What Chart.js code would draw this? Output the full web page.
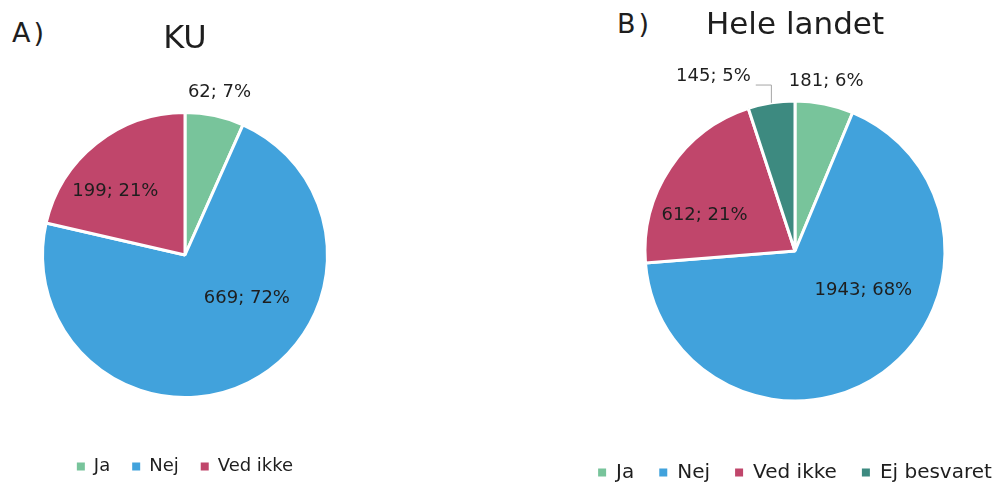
<!DOCTYPE html>
<html>
<head>
<meta charset="utf-8">
<script src="https://cdn.jsdelivr.net/npm/chart.js@4"></script>
<style>
  html, body { margin: 0; padding: 0; background: #fff; overflow: hidden; width: 1005px; height: 482px; }
  body { position: relative; font-family: "DejaVu Sans", sans-serif; color: #1e1e1e; }
  canvas { position: absolute; top: 0; }
  #chart-ku { left: 0; }
  #chart-landet { left: 560px; }
  .tag { position: absolute; font-size: 27px; line-height: 27px; letter-spacing: 3px; }
</style>
</head>
<body>
<div class="tag" style="left:12px; top:19px;">A)</div>
<div class="tag" style="left:617px; top:10px;">B)</div>
<canvas id="chart-ku" width="370" height="490"></canvas>
<canvas id="chart-landet" width="470" height="500"></canvas>
<script>
/* Survey answers */
const categoriesKU = ['Ja', 'Nej', 'Ved ikke'];
const valuesKU = [62, 669, 199];
const percentKU = [7, 72, 21];

const categoriesLandet = ['Ja', 'Nej', 'Ved ikke', 'Ej besvaret'];
const valuesLandet = [181, 1943, 612, 145];
const percentLandet = [6, 68, 21, 5];

const answerColors = ['#78c49b', '#41a2dc', '#c0466b', '#3d8a80'];

/* Label spots: [fraction along the slice, fraction of the radius] */
const labelSpotsKU = [[0.5, 1.165], [0.39, 0.53], [0.38, 0.66]];
const labelSpotsLandet = [[0.46, 1.15], [0.40, 0.525], [0.34, 0.648], [-0.38, 1.287]];
const leadersLandet = [false, false, false, true];

Chart.defaults.font.family = '"DejaVu Sans", sans-serif';
Chart.defaults.color = '#1e1e1e';

/* Writes "count; pct%" on each slice */
function makeSliceLabels(percent, spots, leaders) {
    return {
        id: 'sliceLabels',
        afterDatasetsDraw(chart) {
            const ctx = chart.ctx;
            const values = chart.data.datasets[0].data;
            ctx.save();
            ctx.font = '18px "DejaVu Sans"';
            ctx.fillStyle = '#1e1e1e';
            ctx.textAlign = 'center';
            ctx.textBaseline = 'middle';
            chart.getDatasetMeta(0).data.forEach((arc, i) => {
                const p = arc.getProps(['x', 'y', 'startAngle', 'endAngle', 'outerRadius'], true);
                const a = p.startAngle + spots[i][0] * (p.endAngle - p.startAngle);
                const lx = p.x + Math.cos(a) * p.outerRadius * spots[i][1];
                const ly = p.y + Math.sin(a) * p.outerRadius * spots[i][1];
                const text = values[i] + '; ' + percent[i] + '%';
                ctx.fillText(text, lx, ly);

                if (leaders && leaders[i]) {
                    const mid = (p.startAngle + p.endAngle) / 2;
                    const px = p.x + Math.cos(mid) * p.outerRadius;
                    const py = p.y + Math.sin(mid) * p.outerRadius;
                    const w = ctx.measureText(text).width;
                    ctx.strokeStyle = '#a6a6a6';
                    ctx.lineWidth = 1;
                    ctx.beginPath();
                    ctx.moveTo(lx + w / 2 + 5, ly + 9);
                    ctx.lineTo(px, ly + 9);
                    ctx.lineTo(px, py);
                    ctx.stroke();
                }
            });
            ctx.restore();
        }
    };
}

/* Legend squares without the white slice border */
function plainLegendLabels(chart) {
    return Chart.controllers.pie.overrides.plugins.legend.labels.generateLabels(chart)
        .map(item => Object.assign(item, {lineWidth: 0}));
}

function initPie(canvasId, cfg) {
    return new Chart(document.getElementById(canvasId), {
        type: 'pie',
        data: {
            labels: cfg.categories,
            datasets: [{
                data: cfg.values,
                backgroundColor: answerColors.slice(0, cfg.values.length),
                borderColor: '#ffffff',
                borderWidth: 3,
                radius: cfg.radius
            }]
        },
        options: {
            responsive: false,
            animation: false,
            layout: { padding: { bottom: cfg.padBottom } },
            plugins: {
                title: {
                    display: true,
                    text: cfg.title,
                    color: '#1e1e1e',
                    font: { size: cfg.titleSize, weight: 'normal' },
                    padding: cfg.titlePadding
                },
                legend: {
                    position: 'bottom',
                    labels: {
                        usePointStyle: true,
                        pointStyle: 'rect',
                        boxWidth: 8,
                        boxHeight: 8,
                        padding: cfg.legendGap,
                        font: { size: cfg.legendSize },
                        color: '#1e1e1e',
                        generateLabels: plainLegendLabels
                    }
                },
                tooltip: { enabled: false }
            }
        },
        plugins: [cfg.labels]
    });
}

initPie('chart-ku', {
    categories: categoriesKU,
    values: valuesKU,
    title: 'KU',
    titleSize: 32,
    titlePadding: { top: 20.8, bottom: 15.3 },
    legendSize: 18,
    legendGap: 22,
    padBottom: 4.5,
    radius: 142.5,
    labels: makeSliceLabels(percentKU, labelSpotsKU)
});

initPie('chart-landet', {
    categories: categoriesLandet,
    values: valuesLandet,
    title: 'Hele landet',
    titleSize: 31,
    titlePadding: { top: 7.4, bottom: 19.9 },
    legendSize: 20,
    legendGap: 25,
    padBottom: 7.5,
    radius: 150,
    labels: makeSliceLabels(percentLandet, labelSpotsLandet, leadersLandet)
});
</script>
</body>
</html>
